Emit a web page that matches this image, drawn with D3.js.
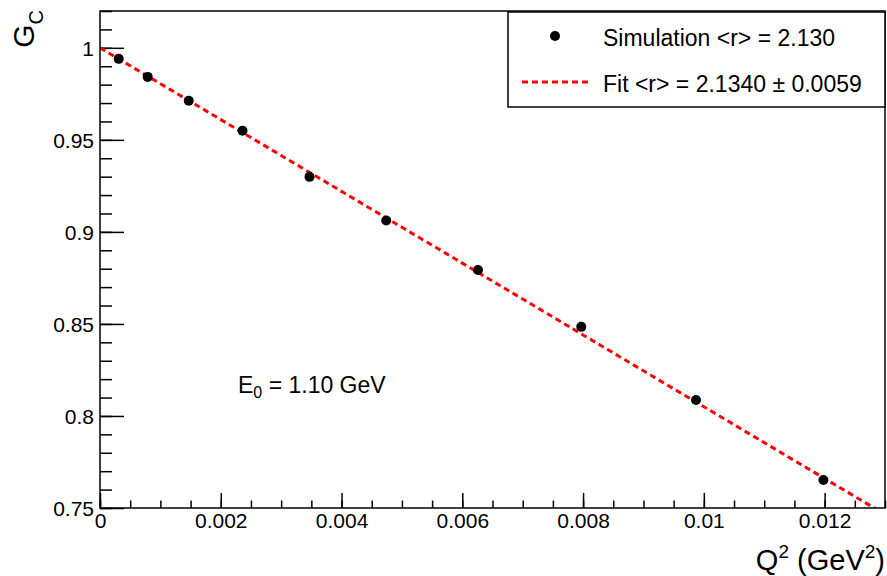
<!DOCTYPE html>
<html>
<head>
<meta charset="utf-8">
<script src="https://d3js.org/d3.v7.min.js"></script>
<style>
 body { margin: 0; background: #fff; }
 text { font-family: "Liberation Sans", Arial, sans-serif; fill: #000; }
</style>
</head>
<body>
<svg width="887" height="576"></svg>
<script>
 // data
 var q2 = [0.00031, 0.00079, 0.00147, 0.00236, 0.00347, 0.00474, 0.00626, 0.00797, 0.00987, 0.01198];
 var gc = [0.9940, 0.9842, 0.9712, 0.9549, 0.9299, 0.9062, 0.8793, 0.8484, 0.8087, 0.7652];
 var gcErr = [0.0005, 0.0006, 0.0007, 0.0008, 0.0009, 0.0010, 0.0011, 0.0013, 0.0017, 0.0022];
 var fitR = 2.134;          // fm
 var hbarc = 0.1973;        // GeV fm
 var xMajor = [0, 0.002, 0.004, 0.006, 0.008, 0.01, 0.012];
 var yMajor = [0.75, 0.8, 0.85, 0.9, 0.95, 1];
 var legendLabels = ["Simulation <r> = 2.130", "Fit <r> = 2.1340 \u00b1 0.0059"];

 var L = 100, R = 885, T = 11, B = 508;
 var svg = d3.select("svg");

 var x = d3.scaleLinear().domain([0, 0.013]).range([L, R]);
 var y = d3.scaleLinear().domain([0.75, 1.02]).range([B, T]);

 var xMinor = d3.range(0, 0.01301, 0.0005);
 var yMinor = d3.range(0.75, 1.0201, 0.01);

 function fmt(v) { return d3.format("")(+v.toPrecision(6)); }

 // y axis
 svg.append("g").attr("transform", "translate(" + L + ",0)")
    .call(d3.axisLeft(y).tickValues(yMinor).tickSize(-12).tickFormat(""))
    .call(g => g.select(".domain").remove());
 svg.append("g").attr("transform", "translate(" + L + ",0)")
    .call(d3.axisLeft(y).tickValues(yMajor).tickSize(-24).tickPadding(6).tickFormat(fmt))
    .call(g => g.select(".domain").remove())
    .call(g => g.selectAll("text").attr("font-size", "21px").attr("dy", "0.36em"));

 // x axis
 svg.append("g").attr("transform", "translate(0," + B + ")")
    .call(d3.axisBottom(x).tickValues(xMinor).tickSize(-7.5).tickFormat(""))
    .call(g => g.select(".domain").remove());
 svg.append("g").attr("transform", "translate(0," + B + ")")
    .call(d3.axisBottom(x).tickValues(xMajor).tickSize(-15).tickPadding(5).tickFormat(fmt))
    .call(g => g.select(".domain").remove())
    .call(g => g.selectAll("text").attr("font-size", "21px").attr("dy", "0.72em"));

 svg.selectAll(".tick line").attr("stroke", "#000").attr("stroke-width", 1.5);

 // fit line
 var slope = fitR * fitR / (6 * hbarc * hbarc);
 var fitPts = d3.range(0, 0.01301, 0.0001).map(function (q) { return [q, 1 - slope * q]; });
 svg.append("clipPath").attr("id", "clip")
    .append("rect").attr("x", L).attr("y", T).attr("width", R - L).attr("height", B - T);
 svg.append("path")
    .datum(fitPts)
    .attr("clip-path", "url(#clip)")
    .attr("d", d3.line().x(d => x(d[0])).y(d => y(d[1])))
    .attr("fill", "none").attr("stroke", "#ff0000").attr("stroke-width", 3)
    .attr("stroke-dasharray", "6,4");

 // points
 var pts = q2.map(function (q, i) { return {q: q, g: gc[i], e: gcErr[i]}; });
 svg.append("g").selectAll("line").data(pts).enter().append("line")
    .attr("x1", d => x(d.q)).attr("x2", d => x(d.q))
    .attr("y1", d => y(d.g - d.e)).attr("y2", d => y(d.g + d.e))
    .attr("stroke", "#000").attr("stroke-width", 2);
 svg.append("g").selectAll("circle").data(pts).enter().append("circle")
    .attr("cx", d => x(d.q)).attr("cy", d => y(d.g)).attr("r", 5).attr("fill", "#000");

 // frame
 svg.append("rect").attr("x", L).attr("y", T).attr("width", R - L).attr("height", B - T)
    .attr("fill", "none").attr("stroke", "#000").attr("stroke-width", 1.5);

 // legend
 var lg = svg.append("g");
 lg.append("rect").attr("x", 508).attr("y", 12).attr("width", 377).attr("height", 95)
   .attr("fill", "#fff").attr("stroke", "#000").attr("stroke-width", 1.5);
 lg.append("circle").attr("cx", 555).attr("cy", 36).attr("r", 5).attr("fill", "#000");
 lg.append("line").attr("x1", 522).attr("x2", 589).attr("y1", 82).attr("y2", 82)
   .attr("stroke", "#ff0000").attr("stroke-width", 3).attr("stroke-dasharray", "6,4");
 lg.selectAll("text").data(legendLabels).enter().append("text")
   .attr("x", 603).attr("y", (d, i) => 46 + i * 46)
   .attr("font-size", "23px").text(d => d);

 // annotation
 var ann = svg.append("text").attr("x", 238).attr("y", 393).attr("font-size", "23px");
 ann.append("tspan").text("E");
 ann.append("tspan").attr("font-size", "16px").attr("dy", 5).text("0");
 ann.append("tspan").attr("dy", -5).text(" = 1.10 GeV");

 // axis titles
 var xt = svg.append("text").attr("x", 885).attr("y", 570).attr("text-anchor", "end").attr("font-size", "29px");
 xt.append("tspan").text("Q");
 xt.append("tspan").attr("font-size", "19px").attr("dy", -12).text("2");
 xt.append("tspan").attr("dy", 12).text(" (GeV");
 xt.append("tspan").attr("font-size", "19px").attr("dy", -12).text("2");
 xt.append("tspan").attr("dy", 12).text(")");

 var yt = svg.append("text").attr("transform", "translate(34,10) rotate(-90)")
    .attr("text-anchor", "end").attr("font-size", "30px");
 yt.append("tspan").text("G");
 yt.append("tspan").attr("font-size", "20px").attr("dy", 9).text("C");
</script>
</body>
</html>
